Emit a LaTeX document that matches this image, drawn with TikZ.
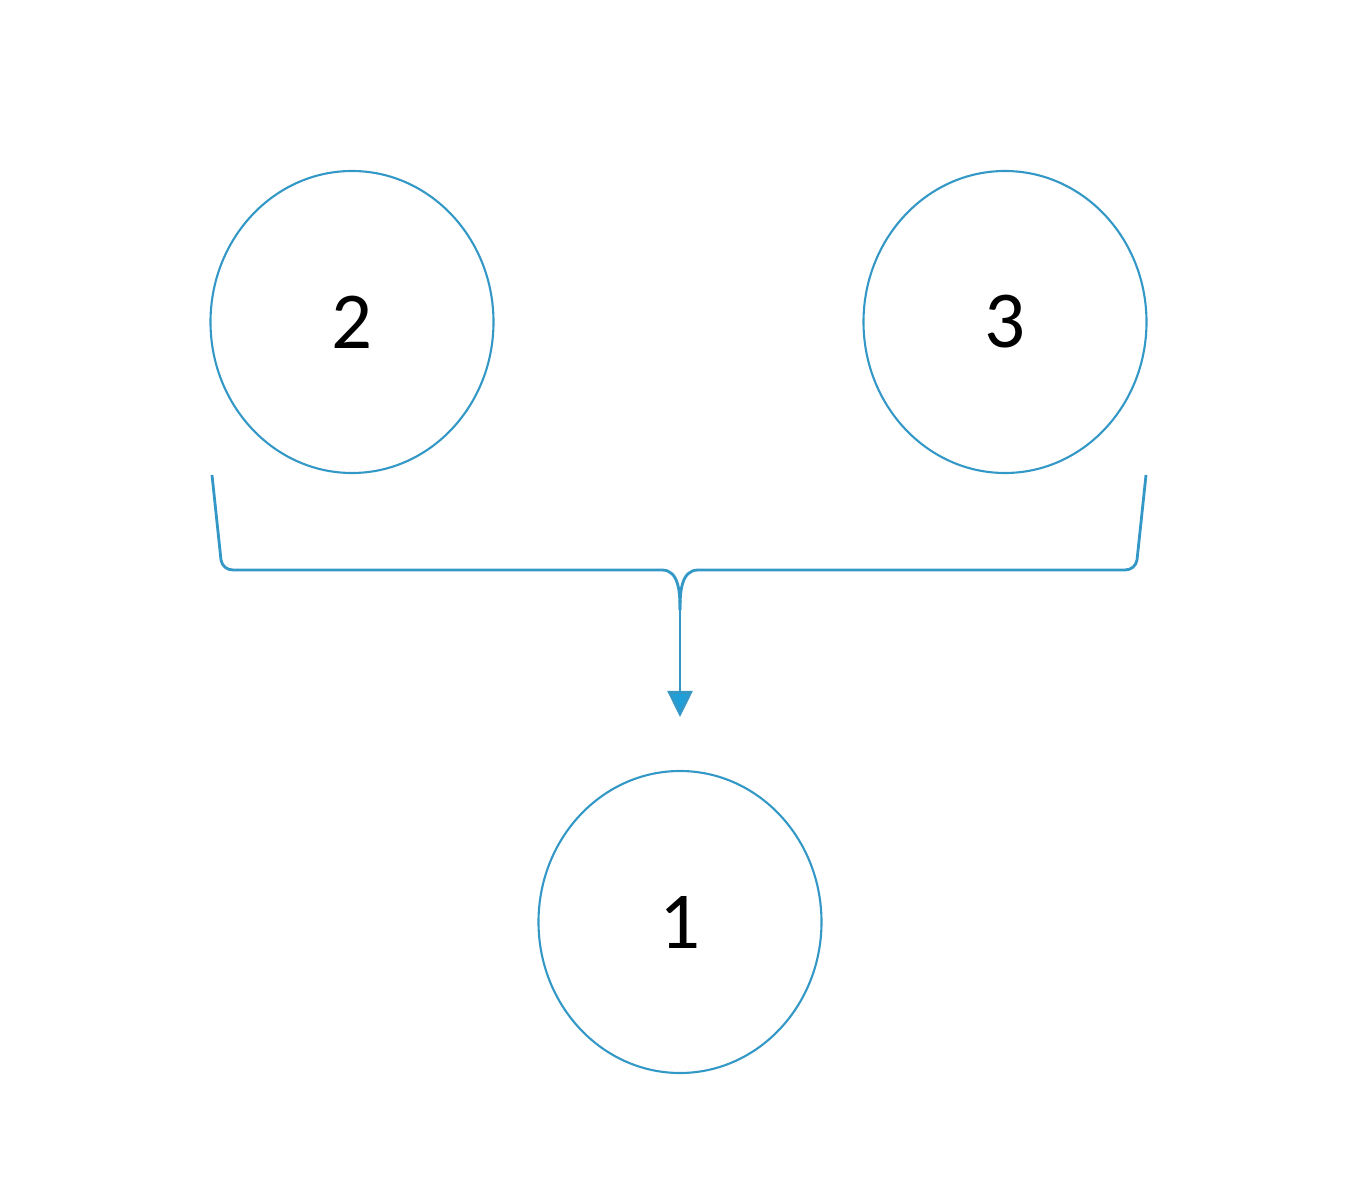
\documentclass[tikz,border=0pt]{standalone}
\usepackage{fontspec}
\setmainfont{Carlito}
\usetikzlibrary{shapes.geometric,arrows.meta}
\definecolor{lineblue}{RGB}{52,152,199}
\definecolor{tipblue}{RGB}{32,158,216}
\tikzset{
  num/.style={ellipse,draw=lineblue,line width=0.6pt,minimum width=2.83cm,minimum height=3.02cm,inner sep=0pt,font=\fontsize{23}{27}\selectfont},
  brace/.style={lineblue,line width=0.8pt},
}
\begin{document}
\begin{tikzpicture}
\useasboundingbox (0,0) rectangle (13.45,12);

%---------------------------------------------------
\node[num] (n2) at (3.52,8.78) {2};
\node[num] (n3) at (10.05,8.78) {3};
\node[num] (n1) at (6.80,2.78) {1};

%---------------------------------------------------
%brace
\coordinate (bl) at (2.12,7.25);
\coordinate (br) at (11.46,7.25);
\coordinate (join) at (6.80,5.90);

\draw[brace] (bl) -- (2.21,6.40) to[out=-80,in=180] (2.33,6.30) -- (6.62,6.30) to[out=0,in=90] (join);
\draw[brace] (br) -- (11.37,6.40) to[out=-100,in=0] (11.25,6.30) -- (6.98,6.30) to[out=180,in=90] (join);

%arrow
\draw[brace,-{Triangle[width=0.25cm,length=0.26cm,fill=tipblue]},shorten >=0.53cm] (join) -- (n1.north);

\end{tikzpicture}
\end{document}
